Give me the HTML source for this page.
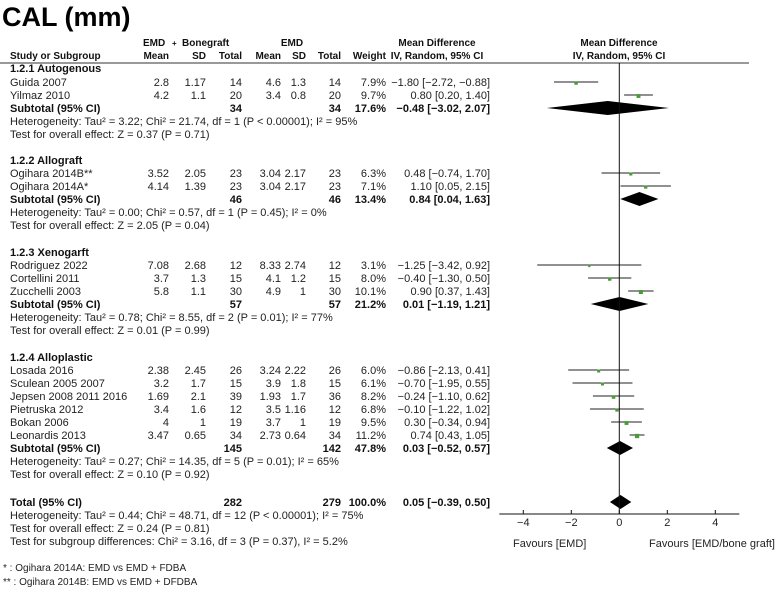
<!DOCTYPE html>
<html><head><meta charset="utf-8"><style>
body{margin:0;background:#fff;width:776px;height:587px;overflow:hidden}
svg{font-family:"Liberation Sans",sans-serif;font-size:11px;fill:#222}
.b{font-weight:bold;fill:#111}
.h{font-size:10px}
</style></head><body>
<svg id="c" width="776" height="587">
<text x="2" y="26" style="font-size:27px;font-weight:bold;fill:#000">CAL (mm)</text>
<g class="b h">
<text x="143" y="46">EMD</text><text x="172" y="46" style="font-size:8px">+</text><text x="182" y="46">Bonegraft</text>
<text x="292" y="46" text-anchor="middle">EMD</text>
<text x="437" y="46" text-anchor="middle">Mean Difference</text>
<text x="619" y="46" text-anchor="middle">Mean Difference</text>
<text x="10" y="59">Study or Subgroup</text>
<text x="169" y="59" text-anchor="end">Mean</text><text x="206" y="59" text-anchor="end">SD</text><text x="242" y="59" text-anchor="end">Total</text>
<text x="281" y="59" text-anchor="end">Mean</text><text x="306" y="59" text-anchor="end">SD</text><text x="341" y="59" text-anchor="end">Total</text>
<text x="386" y="59" text-anchor="end">Weight</text>
<text x="437" y="59" text-anchor="middle">IV, Random, 95% CI</text>
<text x="619" y="59" text-anchor="middle">IV, Random, 95% CI</text>
</g>
<line x1="0" y1="63" x2="749" y2="63" stroke="#333" stroke-width="1"/>
<g id="rows"></g>
<g id="plot"></g>
<text x="513" y="547">Favours [EMD]</text>
<text x="775" y="547" text-anchor="end">Favours [EMD/bone graft]</text>
<text x="3" y="571" style="font-size:10px">* : Ogihara 2014A:  EMD vs EMD + FDBA</text>
<text x="3" y="585" style="font-size:10px">** : Ogihara 2014B:  EMD vs EMD + DFDBA</text>
</svg>
<script>
const studies=["Guida 2007","Yilmaz 2010","Ogihara  2014B**","Ogihara  2014A*","Rodriguez 2022","Cortellini 2011","Zucchelli 2003","Losada 2016","Sculean 2005 2007","Jepsen 2008 2011 2016","Pietruska 2012","Bokan 2006","Leonardis 2013"];
const studyY=[82,95,173,186,265,278,291,370,383,396,409,422,435];
const mean1=["2.8","4.2","3.52","4.14","7.08","3.7","5.8","2.38","3.2","1.69","3.4","4","3.47"];
const sd1=["1.17","1.1","2.05","1.39","2.68","1.3","1.1","2.45","1.7","2.1","1.6","1","0.65"];
const n1=[14,20,23,23,12,15,30,26,15,39,12,19,34];
const mean2=["4.6","3.4","3.04","3.04","8.33","4.1","4.9","3.24","3.9","1.93","3.5","3.7","2.73"];
const sd2=["1.3","0.8","2.17","2.17","2.74","1.2","1","2.22","1.8","1.7","1.16","1","0.64"];
const n2=[14,20,23,23,12,15,30,26,15,36,12,19,34];
const weight=[7.9,9.7,6.3,7.1,3.1,8.0,10.1,6.0,6.1,8.2,6.8,9.5,11.2];
const md=[-1.80,0.80,0.48,1.10,-1.25,-0.40,0.90,-0.86,-0.70,-0.24,-0.10,0.30,0.74];
const lo=[-2.72,0.20,-0.74,0.05,-3.42,-1.30,0.37,-2.13,-1.95,-1.10,-1.22,-0.34,0.43];
const hi=[-0.88,1.40,1.70,2.15,0.92,0.50,1.43,0.41,0.55,0.62,1.02,0.94,1.05];
const groups=["1.2.1 Autogenous","1.2.2 Allograft","1.2.3 Xenogarft","1.2.4 Alloplastic","Total (95% CI)"];
const groupY=[68,160,252,357,0];
const subY=[108,199,304,448,502];
const subN1=[34,46,57,145,282];
const subN2=[34,46,57,142,279];
const subW=["17.6%","13.4%","21.2%","47.8%","100.0%"];
const subMd=[-0.48,0.84,0.01,0.03,0.05];
const subLo=[-3.02,0.04,-1.19,-0.52,-0.39];
const subHi=[2.07,1.63,1.21,0.57,0.50];
const hetText=["Heterogeneity: Tau² = 3.22; Chi² = 21.74, df = 1 (P < 0.00001); I² = 95%","Heterogeneity: Tau² = 0.00; Chi² = 0.57, df = 1 (P = 0.45); I² = 0%","Heterogeneity: Tau² = 0.78; Chi² = 8.55, df = 2 (P = 0.01); I² = 77%","Heterogeneity: Tau² = 0.27; Chi² = 14.35, df = 5 (P = 0.01); I² = 65%","Heterogeneity: Tau² = 0.44; Chi² = 48.71, df = 12 (P < 0.00001); I² = 75%"];
const zText=["Test for overall effect: Z = 0.37 (P = 0.71)","Test for overall effect: Z = 2.05 (P = 0.04)","Test for overall effect: Z = 0.01 (P = 0.99)","Test for overall effect: Z = 0.10 (P = 0.92)","Test for overall effect: Z = 0.24 (P = 0.81)"];
const ticks=[-4,-2,0,2,4];
const NS="http://www.w3.org/2000/svg";
const X0=619.3,PX=24,AXY=514;
const xs=v=>X0+v*PX;
const rows=document.getElementById('rows'),plot=document.getElementById('plot');
function mk(tag,attrs,parent){const e=document.createElementNS(NS,tag);for(const k in attrs)e.setAttribute(k,attrs[k]);parent.appendChild(e);return e;}
function txt(x,y,s,anchor,cls,name){const e=mk('text',{x:x,y:y},rows);if(anchor)e.setAttribute('text-anchor',anchor);if(cls)e.setAttribute('class',cls);e.textContent=s;

return e;}
const f2=v=>(v<0?'−':'')+Math.abs(v).toFixed(2);
const ci=(m,l,h)=>f2(m)+' ['+f2(l)+', '+f2(h)+']';
studies.forEach((s,i)=>{const y=studyY[i]+4;
txt(10,y,s,null,null,'study-name');txt(169,y,mean1[i],'end',null,'mean-exp');txt(206,y,sd1[i],'end',null,'sd-exp');txt(242,y,n1[i],'end',null,'total-exp');
txt(281,y,mean2[i],'end',null,'mean-ctrl');txt(306,y,sd2[i],'end',null,'sd-ctrl');txt(341,y,n2[i],'end',null,'total-ctrl');
txt(386,y,weight[i].toFixed(1)+'%','end',null,'weight');txt(490,y,ci(md[i],lo[i],hi[i]),'end',null,'ci-text');
const l=mk('line',{x1:xs(lo[i]),x2:xs(hi[i]),y1:studyY[i],y2:studyY[i],stroke:'#222','stroke-width':1},plot);


const sz=1.5+weight[i]*0.25;
const r=mk('rect',{x:xs(md[i])-sz/2,y:studyY[i]-sz/2+1,width:sz,height:sz,fill:'#4a9a3a'},plot);


});
groups.forEach((g,i)=>{
if(i<4)txt(10,groupY[i]+4,g,null,'b','subgroup-title');
const y=subY[i]+4;
txt(10,y,i<4?'Subtotal (95% CI)':g,null,'b','subtotal-label');
txt(242,y,subN1[i],'end','b','subtotal-n-exp');txt(341,y,subN2[i],'end','b','subtotal-n-ctrl');
txt(386,y,subW[i],'end','b','subtotal-weight');txt(490,y,ci(subMd[i],subLo[i],subHi[i]),'end','b','subtotal-ci');
txt(10,y+13,hetText[i],null,null,'heterogeneity-text');txt(10,y+26,zText[i],null,null,'overall-effect-text');
const d=mk('polygon',{points:`${xs(subLo[i])},${subY[i]} ${xs(subMd[i])},${subY[i]-7} ${xs(subHi[i])},${subY[i]} ${xs(subMd[i])},${subY[i]+7}`,fill:'#000'},plot);


});
txt(10,545,'Test for subgroup differences: Chi² = 3.16, df = 3 (P = 0.37), I² = 5.2%',null,null,'subgroup-diff-text');
const v=mk('line',{x1:X0,x2:X0,y1:63,y2:AXY,stroke:'#111','stroke-width':1},plot);


const ax=mk('line',{x1:xs(-5),x2:xs(5),y1:AXY,y2:AXY,stroke:'#111','stroke-width':1},plot);


ticks.forEach(t=>{const tl=mk('line',{x1:xs(t),x2:xs(t),y1:AXY-4,y2:AXY,stroke:'#111'},plot);


const tt=mk('text',{x:xs(t),y:AXY+12,'text-anchor':'middle'},plot);tt.textContent=(t<0?'−':'')+Math.abs(t);

});
</script>
</body></html>
